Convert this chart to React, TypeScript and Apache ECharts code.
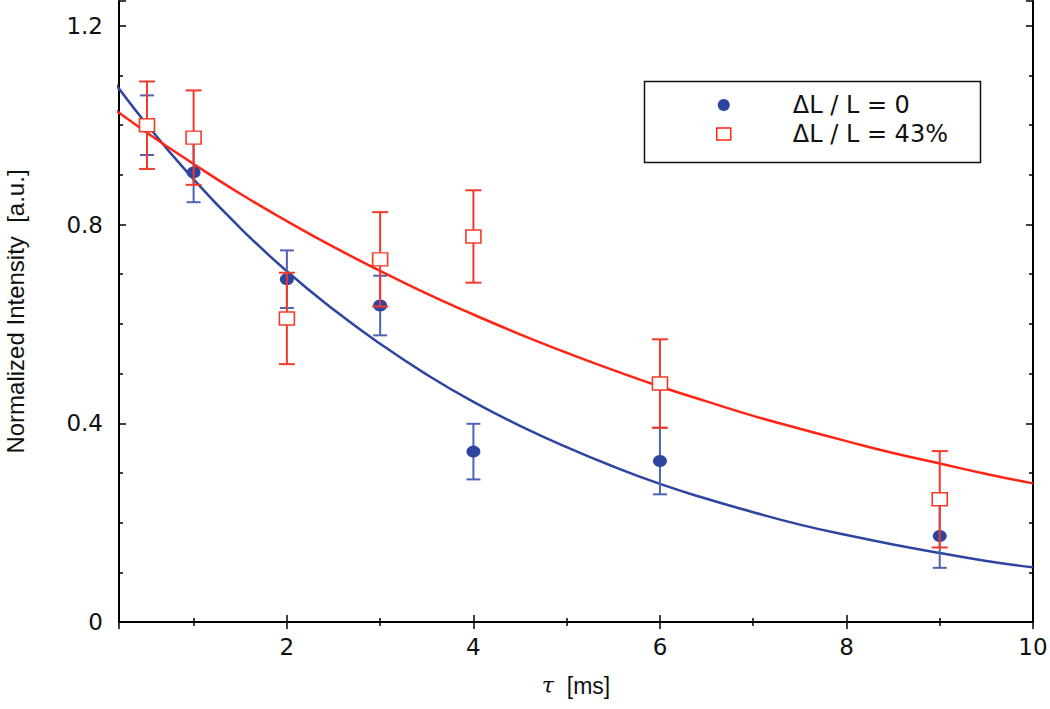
import React, { useEffect, useRef } from "react";
import * as echarts from "echarts";

// Measured points (tau in ms)
const tau = [0.5, 1, 2, 3, 4, 6, 9];
const blueY = [1.0, 0.905, 0.69, 0.637, 0.343, 0.324, 0.173];
const blueErr = [0.06, 0.06, 0.058, 0.06, 0.056, 0.067, 0.064];
const redY = [1.0, 0.975, 0.611, 0.73, 0.776, 0.48, 0.247];
const redErr = [0.088, 0.095, 0.092, 0.095, 0.093, 0.089, 0.097];

// Fit curves (clipped at the plot's left edge)
const fitX = [0, 0.5, 1, 1.5, 2, 2.5, 3, 3.5, 4, 4.5, 5, 5.5, 6, 6.5, 7, 7.5, 8, 8.5, 9, 9.5, 10];
const blueFit = [1.124, 1.001, 0.891, 0.793, 0.706, 0.629, 0.56, 0.498, 0.443, 0.395, 0.352, 0.313, 0.278, 0.248, 0.221, 0.196, 0.175, 0.156, 0.139, 0.123, 0.11];
const redFit = [1.053, 0.985, 0.922, 0.862, 0.807, 0.755, 0.707, 0.661, 0.619, 0.579, 0.542, 0.507, 0.474, 0.444, 0.415, 0.389, 0.364, 0.34, 0.319, 0.298, 0.279];

const xTicks = [2, 4, 6, 8, 10];
const yTicks = [0, 0.4, 0.8, 1.2];

const seriesNames = ["\u0394L / L = 0", "\u0394L / L = 43%"];

const BLUE = "#2D45A0";
const BLUE_BAR = "#4F62B6";
const RED = "#FF2414";
const RED_BAR = "#F23A2A";

function errRender(capHalf: number, color: string) {
  return (params: any, api: any) => {
    const x = api.value(0);
    const y = api.value(1);
    const e = api.value(2);
    const top = api.coord([x, y + e]);
    const bot = api.coord([x, y - e]);
    const style = { stroke: color, lineWidth: 2 };
    return {
      type: "group",
      children: [
        { type: "line", shape: { x1: top[0], y1: top[1], x2: bot[0], y2: bot[1] }, style },
        { type: "line", shape: { x1: top[0] - capHalf, y1: top[1], x2: top[0] + capHalf, y2: top[1] }, style },
        { type: "line", shape: { x1: bot[0] - capHalf, y1: bot[1], x2: bot[0] + capHalf, y2: bot[1] }, style },
      ],
    };
  };
}

export default function App() {
  const ref = useRef<HTMLDivElement>(null);
  useEffect(() => {
    if (!ref.current) return;
    const chart = echarts.init(ref.current, undefined, { renderer: "svg" });
    const axisLine = { show: true, lineStyle: { color: "#000", width: 2 } };
    const xCommon = {
      type: "value",
      min: 0.2,
      max: 10,
      splitNumber: 5,
      splitLine: { show: false },
      axisLine,
      axisTick: { show: true, inside: true, length: 7, lineStyle: { color: "#000", width: 1.5 } },
      minorTick: { show: true, splitNumber: 2, length: 4, lineStyle: { color: "#000", width: 1.5 } },
    };
    const yCommon = {
      type: "value",
      min: 0,
      max: 1.25,
      interval: 0.4,
      splitLine: { show: false },
      axisLine,
      axisTick: { show: true, inside: true, length: 7, lineStyle: { color: "#000", width: 1.5 } },
      minorTick: { show: true, splitNumber: 4, length: 4, lineStyle: { color: "#000", width: 1.5 } },
    };
    const option: any = {
      animation: false,
      backgroundColor: "#fff",
      grid: { left: 119, right: 17, top: 1, bottom: 87, containLabel: false, outerBoundsMode: "none" },
      xAxis: [
        {
          ...xCommon,
          position: "bottom",
          name: "{t|\u03C4}  [ms]",
          nameLocation: "middle",
          nameGap: 52,
          nameTextStyle: {
            fontFamily: "Liberation Sans",
            fontSize: 23,
            color: "#111",
            rich: { t: { fontFamily: "DejaVu Serif", fontStyle: "italic", fontSize: 22, color: "#111" } },
          },
          axisLabel: {
            show: true,
            margin: 13,
            color: "#111",
            fontFamily: "DejaVu Sans",
            fontSize: 23,
            showMinLabel: false,
            formatter: (v: number) => (xTicks.includes(v) ? String(v) : ""),
          },
        },
        { ...xCommon, position: "top", axisLabel: { show: false } },
      ],
      yAxis: [
        {
          ...yCommon,
          position: "left",
          name: "Normalized Intensity  [a.u.]",
          nameLocation: "middle",
          nameGap: 92,
          nameTextStyle: { fontFamily: "Liberation Sans", fontSize: 24, color: "#111" },
          axisLabel: {
            show: true,
            margin: 16,
            color: "#111",
            fontFamily: "DejaVu Sans",
            fontSize: 23,
            showMaxLabel: false,
            formatter: (v: number) => (yTicks.includes(v) ? (v === 0 ? "0" : v.toFixed(1)) : ""),
          },
        },
        { ...yCommon, position: "right", axisLabel: { show: false } },
      ],
      legend: {
        left: 716,
        top: 93,
        orient: "vertical",
        itemWidth: 14,
        itemHeight: 12,
        itemGap: 5,
        padding: 0,
        selectedMode: false,
        textStyle: {
          fontFamily: "DejaVu Sans",
          fontSize: 24,
          lineHeight: 24,
          color: "#111",
          padding: [0, 0, 0, 57],
        },
        data: [
          { name: seriesNames[0], icon: "circle", itemStyle: { color: BLUE } },
          {
            name: seriesNames[1],
            icon: "rect",
            itemStyle: { color: "#fff", borderColor: RED, borderWidth: 1.5 },
          },
        ],
      },
      graphic: [
        {
          type: "rect",
          left: 642,
          top: 79,
          shape: { width: 336, height: 81 },
          style: { fill: "none", stroke: "#111", lineWidth: 1.5 },
          z: 0,
        },
      ],
      series: [
        {
          type: "line",
          name: "blueFit",
          data: fitX.map((x, i) => [x, blueFit[i]]),
          smooth: true,
          clip: true,
          showSymbol: false,
          lineStyle: { color: BLUE, width: 2.5 },
          z: 2,
        },
        {
          type: "line",
          name: "redFit",
          data: fitX.map((x, i) => [x, redFit[i]]),
          smooth: true,
          clip: true,
          showSymbol: false,
          lineStyle: { color: RED, width: 2.5 },
          z: 2,
        },
        {
          type: "custom",
          name: "blueErr",
          renderItem: errRender(7, BLUE_BAR),
          data: tau.map((t, i) => [t, blueY[i], blueErr[i]]),
          encode: { x: 0, y: 1 },
          z: 3,
        },
        {
          type: "scatter",
          name: seriesNames[0],
          data: tau.map((t, i) => [t, blueY[i]]),
          symbol: "circle",
          symbolSize: [14, 12],
          itemStyle: { color: BLUE, opacity: 1 },
          z: 4,
        },
        {
          type: "custom",
          name: "redErr",
          renderItem: errRender(8, RED_BAR),
          data: tau.map((t, i) => [t, redY[i], redErr[i]]),
          encode: { x: 0, y: 1 },
          z: 5,
        },
        {
          type: "scatter",
          name: seriesNames[1],
          data: tau.map((t, i) => [t, redY[i]]),
          symbol: "rect",
          symbolSize: [15, 13],
          itemStyle: { color: "#fff", borderColor: RED_BAR, borderWidth: 1.5, opacity: 1 },
          z: 6,
        },
      ],
    };
    chart.setOption(option);
    return () => chart.dispose();
  }, []);
  return (
    <div
      ref={ref}
      style={{ position: "fixed", left: 0, top: 0, width: 1050, height: 709, background: "#fff" }}
    />
  );
}
